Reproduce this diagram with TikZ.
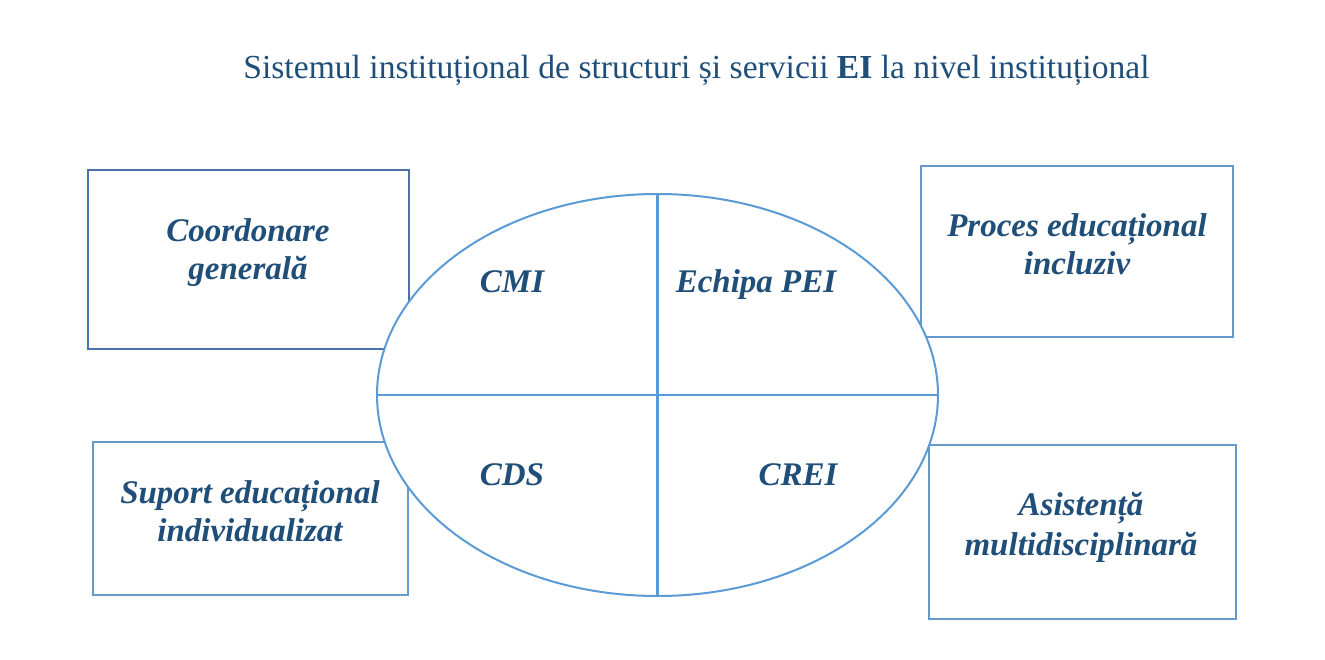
\documentclass[tikz,border=0pt]{standalone}
\usepackage{fontspec}
\setmainfont{Liberation Serif}
\usetikzlibrary{shapes.geometric}
\definecolor{txtblue}{HTML}{1F4E79}
\definecolor{boxdark}{HTML}{4A72AE}
\definecolor{boxlight}{HTML}{6699CC}
\definecolor{ellblue}{HTML}{5B9BD5}
\begin{document}
\begin{tikzpicture}[x=1pt,y=-1pt,
  box/.style={draw=boxlight,line width=2pt,fill=white,rectangle,inner sep=0pt},
  lbl/.style={text=txtblue,font=\fontsize{33}{38}\selectfont\bfseries\itshape,align=center,inner sep=0pt},
  part/.style={draw=ellblue,line width=2.2pt}]
\useasboundingbox[fill=white] (0,0) rectangle (1325,660);
\node[text=txtblue,font=\fontsize{33.6}{38}\selectfont,anchor=base,inner sep=0pt] (title) at (696.5,79)
  {Sistemul instituțional de structuri și servicii \textbf{EI} la nivel instituțional};
% boxes
\node[box,draw=boxdark,minimum width=321pt,minimum height=179pt] (tl) at (248.5,259.5) {};
\node[box,minimum width=312pt,minimum height=171pt] (tr) at (1077,251.5) {};
\node[box,minimum width=315pt,minimum height=153pt] (bl) at (250.5,518.5) {};
\node[box,minimum width=307pt,minimum height=174pt] (br) at (1082.5,532) {};
% ellipse
\node[draw=ellblue,line width=2pt,fill=white,ellipse,minimum width=561pt,minimum height=402pt,inner sep=0pt] (ell) at (657.5,395) {};
\draw[part] (ell.north) -- (ell.south);
\draw[part] (ell.west) -- (ell.east);
% box labels
\node[lbl] (tlt) at (248,253) {Coordonare\\generală};
\node[lbl] (trt) at (1077,244) {Proces educațional\\incluziv};
\node[lbl] (blt) at (250,511) {Suport educațional\\individualizat};
\node[lbl,font=\fontsize{33}{40}\selectfont\bfseries\itshape] (brt) at (1081,527) {Asistență\\multidisciplinară};
% ellipse labels
\node[lbl,anchor=base] (cmi) at (512,293) {CMI};
\node[lbl,anchor=base] (pei) at (756,293) {Echipa PEI};
\node[lbl,anchor=base] (cds) at (512,485) {CDS};
\node[lbl,anchor=base] (crei) at (798,485) {CREI};
\end{tikzpicture}
\end{document}
